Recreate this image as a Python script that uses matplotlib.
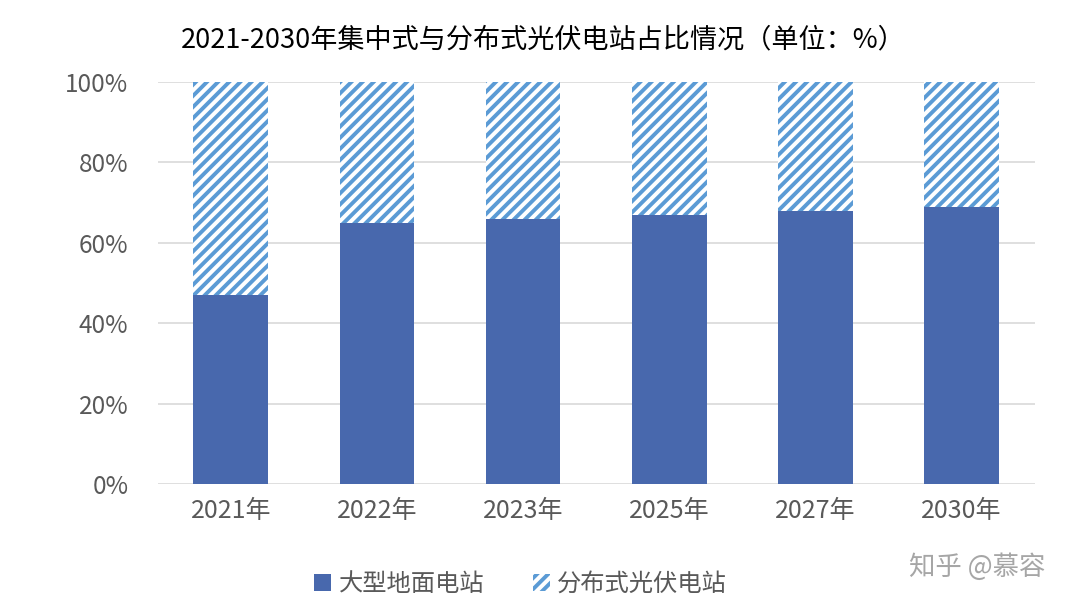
import matplotlib
matplotlib.use("Agg")
import matplotlib.pyplot as plt
from matplotlib.patches import Patch
import numpy as np

plt.rcParams['font.family'] = ['Noto Sans CJK SC', 'DejaVu Sans']
plt.rcParams['hatch.linewidth'] = 2.8

categories = ['2021年', '2022年', '2023年', '2025年', '2027年', '2030年']
ground = [47, 65, 66, 67, 68, 69]
distributed = [53, 35, 34, 33, 32, 31]
yticks = [0, 20, 40, 60, 80, 100]
ytick_labels = ['0%', '20%', '40%', '60%', '80%', '100%']
title = '2021-2030年集中式与分布式光伏电站占比情况（单位：%）'
series_names = ['大型地面电站', '分布式光伏电站']

c_main = '#4868ad'
c_hatch = '#5b9bd5'

fig = plt.figure(figsize=(10.8, 6.08), dpi=100)
ax = fig.add_axes([0.146, 0.204, 0.812, 0.661])

x = np.arange(len(categories))
w = 0.51
ax.bar(x, ground, w, color=c_main, zorder=3)
ax.bar(x, distributed, w, bottom=ground, facecolor='white',
       edgecolor=c_hatch, hatch='///', linewidth=0, zorder=3)

ax.set_xlim(-0.5, len(categories) - 0.5)
ax.set_ylim(0, 100)
ax.set_yticks(yticks)
ax.set_yticklabels(ytick_labels)
ax.set_xticks(x)
ax.set_xticklabels(categories)
ax.yaxis.grid(True, color='#d9d9d9', linewidth=1.2, zorder=0)
ax.set_axisbelow(True)
for s in ax.spines.values():
    s.set_visible(False)
ax.tick_params(axis='both', length=0)
ax.tick_params(axis='y', labelsize=17.5, pad=21)
ax.tick_params(axis='x', labelsize=18, pad=10)
for lab in ax.get_xticklabels() + ax.get_yticklabels():
    lab.set_color('#595959')

fig.text(0.503, 0.935, title, ha='center', va='center', fontsize=19.5,
         color='#000000')

handles = [Patch(facecolor=c_main, edgecolor='none'),
           Patch(facecolor='white', edgecolor=c_hatch, hatch='///', linewidth=0)]
fig.legend(handles, series_names, loc='center', bbox_to_anchor=(0.482, 0.04),
           ncol=2, frameon=False, fontsize=17.5, handlelength=0.7, handleheight=0.7,
           columnspacing=2.0, handletextpad=0.3, labelcolor='#595959')

fig.text(0.905, 0.067, '知乎 @慕容', ha='center', va='center', fontsize=19,
         color='#a6a6a6')

fig.savefig('out.png', dpi=100)
